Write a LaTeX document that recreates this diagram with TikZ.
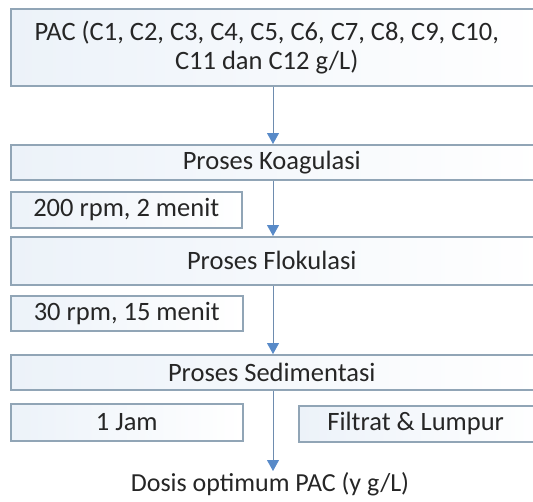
\documentclass[tikz,border=0pt]{standalone}
\usepackage{fontspec}
\setmainfont{Carlito}
\usetikzlibrary{arrows.meta}
\definecolor{boxline}{RGB}{145,165,182}
\definecolor{boxfillL}{RGB}{236,242,249}
\definecolor{arrowblue}{RGB}{88,138,200}
\definecolor{linegray}{RGB}{110,140,175}
\tikzset{
  box/.style={draw=boxline, line width=1.5pt, left color=boxfillL, right color=white,
    inner sep=0pt, anchor=north west, align=center, text=black!85},
  flowarrow/.style={draw=linegray, line width=0.9pt,
    -{Triangle[width=12pt,length=11pt,fill=arrowblue,color=arrowblue]}},
}
\begin{document}
\begin{tikzpicture}[x=1pt,y=-1pt,font=\fontsize{26.5}{29}\selectfont]
\useasboundingbox (0,0) rectangle (533,501);
\node[box, minimum width=532pt, minimum height=77pt] (pac) at (10,8)
  {PAC (C1, C2, C3, C4, C5, C6, C7, C8, C9, C10,\hspace*{20pt}\\ C11 dan C12 g/L)\hspace*{20pt}};
\node[box, minimum width=532pt, minimum height=35pt] (koag) at (10,144) {Proses Koagulasi\hspace*{10pt}};
\node[box, minimum width=231pt, minimum height=36pt] (rpm1) at (10,191) {200 rpm, 2 menit};
\node[box, minimum width=532pt, minimum height=48pt] (flok) at (10,236) {Proses Flokulasi\hspace*{10pt}};
\node[box, minimum width=232pt, minimum height=35pt] (rpm2) at (10,295) {30 rpm, 15 menit};
\node[box, minimum width=532pt, minimum height=35pt] (sed) at (10,354) {Proses Sedimentasi\hspace*{10pt}};
\node[box, minimum width=232pt, minimum height=37pt] (jam) at (10,403) {1 Jam};
\node[box, minimum width=244pt, minimum height=36pt] (fil) at (298,405) {Filtrat \& Lumpur\hspace*{10pt}};
\node[anchor=north, inner sep=1pt, text=black!85, font=\fontsize{26}{29}\selectfont] (dosis) at (270,471) {Dosis optimum PAC (y g/L)};
\coordinate (ax) at (273,0);
\draw[flowarrow] (pac.south -| ax) -- (koag.north -| ax);
\draw[flowarrow] (koag.south -| ax) -- (flok.north -| ax);
\draw[flowarrow] (flok.south -| ax) -- (sed.north -| ax);
\draw[flowarrow] (sed.south -| ax) -- (dosis.north -| ax);
\end{tikzpicture}
\end{document}
